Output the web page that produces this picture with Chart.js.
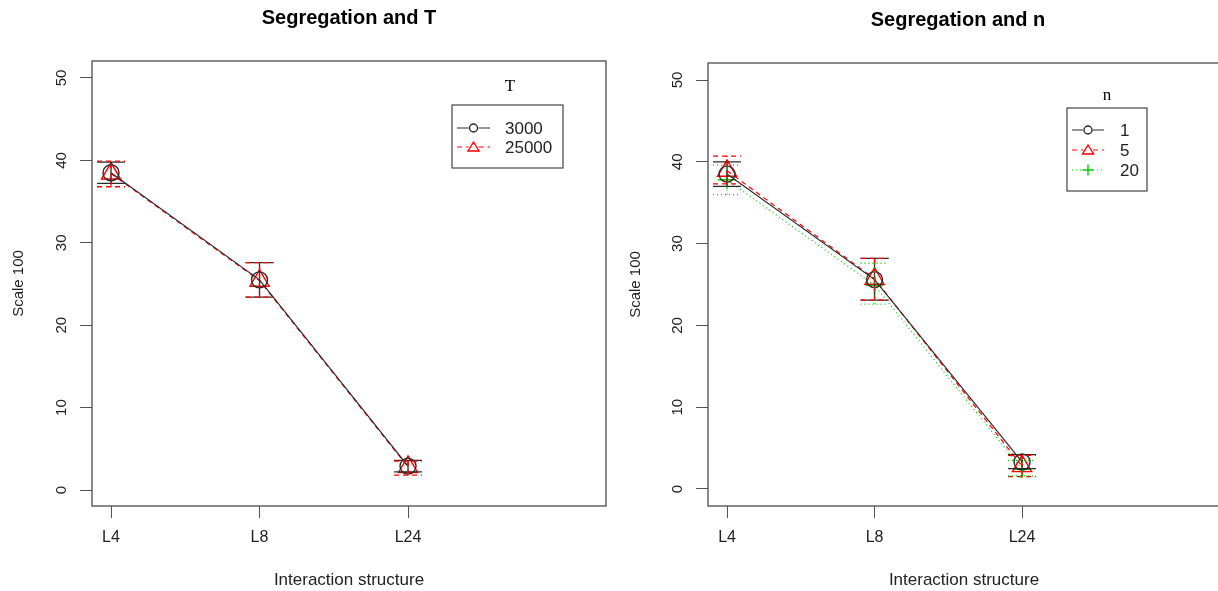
<!DOCTYPE html>
<html>
<head>
<meta charset="utf-8">
<script src="https://cdn.jsdelivr.net/npm/chart.js@4.4.1/dist/chart.umd.min.js"></script>
<style>
  html, body { margin: 0; padding: 0; background: #fff; overflow: hidden; }
  body { width: 1218px; height: 591px; position: relative; }
  canvas { position: absolute; top: 0; }
  #leftChart { left: 0; }
  #rightChart { left: 609px; }
</style>
</head>
<body>
<canvas id="leftChart" width="609" height="591"></canvas>
<canvas id="rightChart" width="620" height="591"></canvas>
<script>
// Categories and tick labels
const categories = ['L4', 'L8', 'L24'];
const yTicks = [0, 10, 20, 30, 40, 50];

// Left chart: by T
const t3000Mean = [38.5, 25.5, 2.9];
const t3000Lo = [37.2, 23.4, 2.2];
const t3000Hi = [39.8, 27.6, 3.6];
const t25000Mean = [38.4, 25.4, 2.8];
const t25000Lo = [36.8, 23.4, 1.8];
const t25000Hi = [39.9, 27.6, 3.5];

// Right chart: by n
const n1Mean = [38.5, 25.6, 3.3];
const n1Lo = [37.0, 23.1, 2.5];
const n1Hi = [40.0, 28.2, 4.2];
const n5Mean = [38.9, 25.7, 2.8];
const n5Lo = [37.3, 23.1, 1.5];
const n5Hi = [40.7, 28.2, 4.1];
const n20Mean = [37.8, 24.9, 2.4];
const n20Lo = [36.0, 22.6, 1.6];
const n20Hi = [39.6, 27.6, 3.5];

const SANS = '"Liberation Sans", Arial, Helvetica, sans-serif';
const SERIF = '"Liberation Serif", "DejaVu Serif", serif';
const BLACK = '#2b2b2b';
const RED = '#ff0000';
const GREEN = '#00cc00';

function toPoints(values) {
    return values.map((v, i) => ({ x: i + 1, y: v }));
}

function makeDataset(label, values, lo, hi, color, dash, style, radius) {
    return {
        label: label,
        data: toPoints(values),
        errLo: lo,
        errHi: hi,
        borderColor: color,
        borderWidth: 1.2,
        borderDash: dash,
        pointStyle: style,
        pointRadius: radius,
        pointBorderColor: color,
        pointBackgroundColor: 'rgba(0,0,0,0)',
        pointBorderWidth: 1.4,
        fill: false,
        tension: 0
    };
}

// Error bars, frame, title and legend drawn on top of the chart
const decorPlugin = {
    id: 'decor',
    afterDatasetsDraw(chart) {
        const ctx = chart.ctx;
        const xs = chart.scales.x;
        const ys = chart.scales.y;
        const area = chart.chartArea;
        const opts = chart.options.plugins.decor;

        // error bars
        chart.data.datasets.forEach(ds => {
            ctx.save();
            ctx.strokeStyle = ds.borderColor;
            ctx.lineWidth = 1.3;
            ctx.setLineDash(ds.borderDash || []);
            ds.data.forEach((p, j) => {
                const x = xs.getPixelForValue(p.x);
                const yl = ys.getPixelForValue(ds.errLo[j]);
                const yh = ys.getPixelForValue(ds.errHi[j]);
                ctx.beginPath();
                ctx.moveTo(x, yl); ctx.lineTo(x, yh);
                ctx.moveTo(x - 14, yl); ctx.lineTo(x + 14, yl);
                ctx.moveTo(x - 14, yh); ctx.lineTo(x + 14, yh);
                ctx.stroke();
            });
            ctx.restore();
        });

        // frame
        ctx.save();
        ctx.strokeStyle = '#4a4a4a';
        ctx.lineWidth = 1.3;
        ctx.strokeRect(area.left, area.top, area.right - area.left, area.bottom - area.top);
        ctx.restore();

        // title
        ctx.save();
        ctx.fillStyle = '#000';
        ctx.font = 'bold 20px ' + SANS;
        ctx.textAlign = 'center';
        ctx.textBaseline = 'middle';
        ctx.fillText(opts.title, opts.titleX, opts.titleY);
        ctx.restore();

        // legend
        const lg = opts.legend;
        ctx.save();
        ctx.font = '17px ' + SERIF;
        ctx.fillStyle = '#000';
        ctx.textAlign = 'center';
        ctx.textBaseline = 'middle';
        ctx.fillText(lg.title, lg.titleX, lg.titleY);
        ctx.strokeStyle = '#444';
        ctx.lineWidth = 1.2;
        ctx.strokeRect(lg.x, lg.y, lg.w, lg.h);
        ctx.font = '17px ' + SANS;
        ctx.textAlign = 'left';
        chart.data.datasets.forEach((ds, i) => {
            const ry = lg.y + lg.rowTop + i * lg.rowGap;
            const x0 = lg.x + 5, x1 = lg.x + 5 + lg.lineLen, mx = (x0 + x1) / 2;
            ctx.strokeStyle = ds.borderColor;
            ctx.lineWidth = 1;
            ctx.setLineDash(ds.borderDash || []);
            ctx.beginPath();
            ctx.moveTo(x0, ry); ctx.lineTo(mx - 5, ry);
            ctx.moveTo(mx + 5, ry); ctx.lineTo(x1, ry);
            ctx.stroke();
            ctx.setLineDash([]);
            ctx.lineWidth = 1.4;
            ctx.beginPath();
            if (ds.pointStyle === 'circle') {
                ctx.arc(mx, ry, 4, 0, Math.PI * 2);
            } else if (ds.pointStyle === 'triangle') {
                ctx.moveTo(mx, ry - 5); ctx.lineTo(mx + 5.5, ry + 4); ctx.lineTo(mx - 5.5, ry + 4); ctx.closePath();
            } else {
                ctx.moveTo(mx - 5.5, ry); ctx.lineTo(mx + 5.5, ry);
                ctx.moveTo(mx, ry - 5.5); ctx.lineTo(mx, ry + 5.5);
            }
            ctx.stroke();
            ctx.fillStyle = '#222';
            ctx.fillText(ds.label, lg.x + lg.textOff, ry + 1);
        });
        ctx.restore();
    }
};

function makeChart(canvasId, datasets, cfg) {
    return new Chart(document.getElementById(canvasId), {
        type: 'line',
        data: { datasets: datasets },
        options: {
            responsive: false,
            animation: false,
            layout: {
                autoPadding: false,
                padding: { top: cfg.top, right: cfg.right, left: 0, bottom: 0 }
            },
            plugins: {
                legend: { display: false },
                tooltip: { enabled: false },
                decor: cfg.decor
            },
            scales: {
                x: {
                    type: 'linear',
                    min: cfg.xMin,
                    max: cfg.xMax,
                    afterBuildTicks: s => { s.ticks = categories.map((c, i) => ({ value: i + 1 })); },
                    afterFit: s => {
                        s.height = 591 - cfg.bottom;
                        s.paddingLeft = 0; s.paddingRight = 0;
                    },
                    grid: { drawOnChartArea: false, drawTicks: true, tickLength: 12, color: '#555' },
                    border: { display: false },
                    ticks: {
                        color: '#222',
                        font: { family: SANS, size: 16 },
                        padding: 10,
                        maxRotation: 0,
                        callback: v => categories[Math.round(v) - 1]
                    },
                    title: {
                        display: true,
                        text: 'Interaction structure',
                        color: '#222',
                        font: { family: SANS, size: 17 },
                        padding: { top: 0, bottom: 0 }
                    }
                },
                y: {
                    type: 'linear',
                    min: cfg.yMin,
                    max: cfg.yMax,
                    afterBuildTicks: s => { s.ticks = yTicks.map(v => ({ value: v })); },
                    afterFit: s => {
                        s.width = cfg.left;
                        s.paddingTop = 0; s.paddingBottom = 0;
                    },
                    grid: { drawOnChartArea: false, drawTicks: true, tickLength: 12, color: '#555' },
                    border: { display: false },
                    ticks: {
                        color: '#222',
                        font: { family: SANS, size: 15 },
                        padding: 10,
                        minRotation: 90,
                        maxRotation: 90,
                        crossAlign: 'center',
                        callback: v => String(v)
                    },
                    title: {
                        display: true,
                        text: 'Scale 100',
                        color: '#222',
                        font: { family: SANS, size: 15 },
                        padding: { top: cfg.yTitlePad, bottom: 0 }
                    }
                }
            }
        },
        plugins: [decorPlugin]
    });
}

makeChart('leftChart', [
    makeDataset('3000', t3000Mean, t3000Lo, t3000Hi, BLACK, [], 'circle', 8),
    makeDataset('25000', t25000Mean, t25000Lo, t25000Hi, RED, [5, 4], 'triangle', 11)
], {
    top: 61, bottom: 506, left: 92, right: 3,
    xMin: 0.872, xMax: 4.333, yMin: -1.94, yMax: 52.06, yTitlePad: 10,
    decor: {
        title: 'Segregation and T', titleX: 349, titleY: 18,
        legend: { title: 'T', titleX: 510, titleY: 87, x: 452, y: 105, w: 111, h: 63,
                  rowTop: 23, rowGap: 19, lineLen: 33, textOff: 53 }
    }
});

makeChart('rightChart', [
    makeDataset('1', n1Mean, n1Lo, n1Hi, BLACK, [], 'circle', 8),
    makeDataset('5', n5Mean, n5Lo, n5Hi, RED, [5, 4], 'triangle', 11),
    makeDataset('20', n20Mean, n20Lo, n20Hi, GREEN, [1, 3], 'cross', 9)
], {
    top: 63, bottom: 506, left: 99, right: 9,
    xMin: 0.871, xMax: 4.342, yMin: -2.08, yMax: 52.08, yTitlePad: 18,
    decor: {
        title: 'Segregation and n', titleX: 349, titleY: 20,
        legend: { title: 'n', titleX: 498, titleY: 96, x: 458, y: 108, w: 80, h: 83,
                  rowTop: 22, rowGap: 20, lineLen: 32, textOff: 53 }
    }
});
</script>
</body>
</html>
